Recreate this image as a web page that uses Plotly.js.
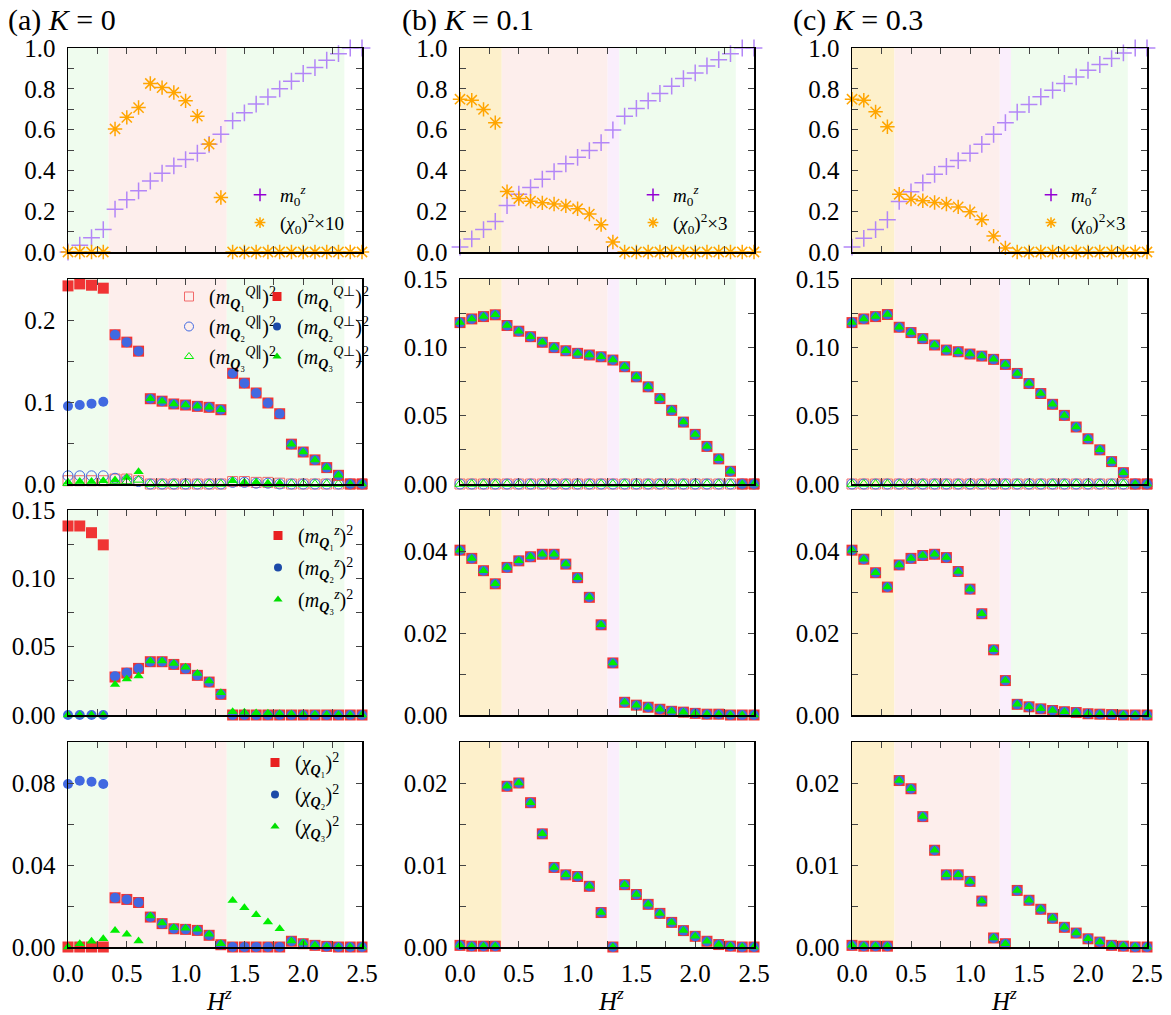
<!DOCTYPE html>
<html><head><meta charset="utf-8">
<script src="https://cdn.plot.ly/plotly-3.0.1.min.js"></script>
<style>html,body{margin:0;padding:0;background:#fff}#chart{width:1171px;height:1015px}</style>
</head><body><div id="chart"></div>
<script>
// ---------------- DATA ----------------
const H = [0.0,0.1,0.2,0.3,0.4,0.5,0.6,0.7,0.8,0.9,1.0,1.1,1.2,1.3,1.4,1.5,1.6,1.7,1.8,1.9,2.0,2.1,2.2,2.3,2.4,2.5];

// Row 1: uniform magnetisation and scalar chirality
const a_m0z = [0.0,0.033,0.07,0.11,0.21,0.256,0.30,0.348,0.386,0.422,0.453,0.484,0.528,0.577,0.643,0.682,0.725,0.76,0.80,0.837,0.875,0.904,0.94,0.972,1.0,1.0];
const a_chi0x10 = [0,0,0,0,0.603,0.66,0.708,0.826,0.806,0.782,0.741,0.666,0.529,0.267,0,0,0,0,0,0,0,0,0,0,0,0];
const b_m0z = [0.024,0.064,0.11,0.15,0.228,0.283,0.316,0.357,0.394,0.432,0.464,0.497,0.536,0.598,0.666,0.704,0.741,0.777,0.813,0.85,0.878,0.912,0.943,0.972,1.0,1.0];
const b_chi0x3 = [0.749,0.744,0.699,0.634,0.296,0.262,0.249,0.241,0.235,0.226,0.212,0.186,0.134,0.049,0,0,0,0,0,0,0,0,0,0,0,0];
const c_m0z = [0.024,0.067,0.11,0.158,0.248,0.295,0.339,0.381,0.419,0.448,0.484,0.528,0.577,0.634,0.686,0.723,0.761,0.793,0.826,0.858,0.891,0.919,0.948,0.976,1.0,1.0];
const c_chi0x3 = [0.749,0.744,0.687,0.614,0.283,0.259,0.251,0.243,0.235,0.221,0.197,0.158,0.078,0.02,0,0,0,0,0,0,0,0,0,0,0,0];

// Row 2: in-plane components (parallel: open, perpendicular: filled)
const a_mPar1 = [0.004,0.004,0.004,0.004,0.006,0.006,0.004,0,0,0,0,0,0,0,0.003,0.003,0.002,0.002,0.001,0,0,0,0,0,0,0];
const a_mPar2 = [0.010,0.010,0.010,0.010,0.007,0.005,0.003,0,0,0,0,0,0,0,0.002,0.002,0.001,0.001,0,0,0,0,0,0,0,0];
const a_mPar3 = [0.001,0.001,0.001,0.001,0.003,0.003,0.005,0,0,0,0,0,0,0,0.002,0.001,0.001,0,0,0,0,0,0,0,0,0];
const a_mPerp1 = [0.2416,0.244,0.2424,0.2388,0.182,0.173,0.162,0.104,0.101,0.0976,0.0963,0.0947,0.0935,0.0906,0.135,0.123,0.111,0.0988,0.0857,0.0486,0.039,0.0294,0.02,0.0106,0,0];
const a_mPerp2 = [0.095,0.0963,0.098,0.1004,0.182,0.173,0.162,0.104,0.101,0.0976,0.0963,0.0947,0.0935,0.0906,0.135,0.123,0.111,0.0988,0.0857,0.0486,0.039,0.0294,0.02,0.0106,0,0];
const a_mPerp3 = [0.002,0.003,0.003,0.004,0.005,0.008,0.015,0.104,0.101,0.0976,0.0963,0.0947,0.0935,0.0906,0.004,0.002,0.002,0.001,0.001,0.0486,0.039,0.0294,0.02,0.0106,0,0];
const b_mPar = [0,0,0,0,0,0,0,0,0,0,0,0,0,0,0,0,0,0,0,0,0,0,0,0,0,0];
const b_mPerp = [0.1181,0.1208,0.1225,0.1238,0.116,0.1118,0.1078,0.1037,0.0998,0.0975,0.0956,0.0944,0.0931,0.0907,0.0858,0.0784,0.0711,0.0625,0.0539,0.0453,0.0363,0.0275,0.0184,0.0093,0,0];
const c_mPar = [0,0,0,0,0,0,0,0,0,0,0,0,0,0,0,0,0,0,0,0,0,0,0,0,0,0];
const c_mPerp = [0.1181,0.1208,0.1225,0.124,0.1147,0.1108,0.1064,0.1017,0.098,0.0968,0.0951,0.0936,0.0912,0.0875,0.0809,0.0735,0.0662,0.0583,0.0502,0.0417,0.0331,0.025,0.0164,0.0083,0,0];

// Row 3: out-of-plane components
const a_mz1 = [0.1383,0.1383,0.1334,0.1245,0.0278,0.0307,0.0341,0.039,0.039,0.037,0.0339,0.029,0.0241,0.0151,0,0,0,0,0,0,0,0,0,0,0,0];
const a_mz2 = [0,0,0,0,0.0283,0.031,0.034,0.039,0.039,0.037,0.0339,0.029,0.0241,0.0151,0,0,0,0,0,0,0,0,0,0,0,0];
const a_mz3 = [0,0,0,0,0.0224,0.0263,0.0285,0.0395,0.0395,0.0377,0.035,0.0304,0.0248,0.0163,0.0024,0.002,0.0015,0.0012,0.001,0.0008,0.0006,0.0004,0.0002,0.0001,0,0];
const b_mz = [0.0402,0.0382,0.0352,0.032,0.036,0.0376,0.0386,0.0392,0.0392,0.0368,0.0335,0.0287,0.022,0.0127,0.0031,0.0024,0.0019,0.0014,0.0009,0.0007,0.0004,0.0002,0.0002,0,0,0];
const c_mz = [0.0402,0.038,0.0347,0.0312,0.0366,0.0382,0.0389,0.0392,0.0384,0.035,0.0307,0.0247,0.0159,0.0084,0.0026,0.002,0.0015,0.0011,0.0008,0.0006,0.0003,0.0002,0.0001,0,0,0];

// Row 4: chirality components
const a_chi1 = [0,0,0,0,0.024,0.0232,0.0217,0.0146,0.0114,0.0089,0.0086,0.0081,0.0057,0.0011,0,0,0,0,0,0.0028,0.0016,0.0008,0.0003,0,0,0];
const a_chi2 = [0.0795,0.0811,0.0806,0.0795,0.024,0.0232,0.0217,0.0146,0.0114,0.0089,0.0086,0.0081,0.0057,0.0011,0,0,0,0,0,0.0028,0.0016,0.0008,0.0003,0,0,0];
const a_chi3 = [0,0.0016,0.0028,0.004,0.0081,0.0062,0.0029,0.0151,0.0117,0.0094,0.0091,0.0086,0.0062,0.0016,0.0227,0.0192,0.0157,0.0122,0.0089,0.0029,0.0019,0.0008,0.0003,0,0,0];
const b_chi = [0.0002,0.0001,0.0001,0.0001,0.0196,0.02,0.0176,0.0138,0.0097,0.0088,0.0086,0.0074,0.0042,0,0.0076,0.0064,0.0052,0.0041,0.003,0.002,0.0013,0.0007,0.0003,0.0001,0,0];
const c_chi = [0.0002,0.0001,0.0001,0.0001,0.0203,0.0193,0.0159,0.0118,0.0088,0.0088,0.008,0.0056,0.0011,0.0004,0.0069,0.0057,0.0046,0.0035,0.0024,0.0017,0.001,0.0006,0.0002,0.0001,0,0];

// Phase boundaries (H^z) and the phase of each interval
const a_bounds = [0, 0.345, 1.35, 2.35];
const a_phases = ['green','pink','green'];
const b_bounds = [0, 0.355, 1.255, 1.355, 2.345];
const b_phases = ['orange','pink','lavender','green'];
const c_bounds = [0, 0.36, 1.252, 1.347, 2.337];
const c_phases = ['orange','pink','lavender','green'];

// Text
const panelTitles = ['(a) <i>K</i> = 0', '(b) <i>K</i> = 0.1', '(c) <i>K</i> = 0.3'];
const xTitle = '<i>H</i><sup><i>z</i></sup>';
const lblM0 = '<i>m</i><sub>0</sub><sup><i>z</i></sup>';
const lblChi0 = ['(<i>χ</i><sub>0</sub>)<sup>2</sup>×10', '(<i>χ</i><sub>0</sub>)<sup>2</sup>×3', '(<i>χ</i><sub>0</sub>)<sup>2</sup>×3'];
const lblPar = ['(<i>m</i><sub><b><i>Q</i></b>₁</sub><sup><i>Q</i>∥</sup>)<sup>2</sup>','(<i>m</i><sub><b><i>Q</i></b>₂</sub><sup><i>Q</i>∥</sup>)<sup>2</sup>','(<i>m</i><sub><b><i>Q</i></b>₃</sub><sup><i>Q</i>∥</sup>)<sup>2</sup>'];
const lblPerp = ['(<i>m</i><sub><b><i>Q</i></b>₁</sub><sup><i>Q</i>⊥</sup>)<sup>2</sup>','(<i>m</i><sub><b><i>Q</i></b>₂</sub><sup><i>Q</i>⊥</sup>)<sup>2</sup>','(<i>m</i><sub><b><i>Q</i></b>₃</sub><sup><i>Q</i>⊥</sup>)<sup>2</sup>'];
const lblMz = ['(<i>m</i><sub><b><i>Q</i></b>₁</sub><sup><i>z</i></sup>)<sup>2</sup>','(<i>m</i><sub><b><i>Q</i></b>₂</sub><sup><i>z</i></sup>)<sup>2</sup>','(<i>m</i><sub><b><i>Q</i></b>₃</sub><sup><i>z</i></sup>)<sup>2</sup>'];
const lblChi = ['(<i>χ</i><sub><b><i>Q</i></b>₁</sub>)<sup>2</sup>','(<i>χ</i><sub><b><i>Q</i></b>₂</sub>)<sup>2</sup>','(<i>χ</i><sub><b><i>Q</i></b>₃</sub>)<sup>2</sup>'];

// ---------------- STYLE ----------------
const W = 1171, HH = 1015;
const FONT = 'Liberation Serif';
const colPx = [[68,362],[460,754],[852,1147]];
const rowPx = [[48,252],[279,484],[510,715],[742,947]];
const phaseColor = {green:'#effcee', pink:'#fdeeec', orange:'#fdf0cb', lavender:'#faeefc'};
const C = {purple:'#b386f7', purpleL:'#9400d3', orange:'#ffa500', red:'#f03434', redL:'#e82020', blue:'#4169e1', blueL:'#1c4aa8', green:'#00ee00', greenL:'#00dd00', redOpen:'#f26a6a'};

const yCfg = [
  [{r:[0,1.0],d:0.2,m:0.1,f:'.1f'},{r:[0,1.0],d:0.2,m:0.1,f:'.1f'},{r:[0,1.0],d:0.2,m:0.1,f:'.1f'}],
  [{r:[0,0.25],d:0.1,m:0.05,f:'.1f'},{r:[0,0.15],d:0.05,m:0.025,f:'.2f'},{r:[0,0.15],d:0.05,m:0.025,f:'.2f'}],
  [{r:[0,0.15],d:0.05,m:0.025,f:'.2f'},{r:[0,0.05],d:0.02,m:0.01,f:'.2f'},{r:[0,0.05],d:0.02,m:0.01,f:'.2f'}],
  [{r:[0,0.1],d:0.04,m:0.02,f:'.2f'},{r:[0,0.025],d:0.01,m:0.005,f:'.2f'},{r:[0,0.025],d:0.01,m:0.005,f:'.2f'}]
];

const layout = {
  width: W, height: HH, margin:{l:0,r:0,t:0,b:0},
  paper_bgcolor:'#ffffff', plot_bgcolor:'rgba(0,0,0,0)',
  font:{family:FONT, size:22, color:'#000'},
  showlegend:true, shapes:[], annotations:[]
};

function axName(n){ return n===1 ? '' : String(n); }

for (let r=0;r<4;r++){
  for (let c=0;c<3;c++){
    const n = r*3+c+1, s = axName(n), yc = yCfg[r][c];
    layout['xaxis'+s] = {
      domain:[colPx[c][0]/W, colPx[c][1]/W], anchor:'y'+s, range:[0,2.5],
      tick0:0, dtick:0.5, tickformat:'.1f', ticks:'inside', ticklen:6, tickwidth:1, tickcolor:'#444',
      minor:{dtick:0.25, ticks:'inside', ticklen:6, tickwidth:1, tickcolor:'#444'},
      showline:true, linecolor:'#000', linewidth:1.5, mirror:'ticks',
      showgrid:false, zeroline:false, showticklabels:(r===3), ticklabelstandoff:3,
      tickfont:{family:FONT, size:25, color:'#000'}, fixedrange:true
    };
    layout['yaxis'+s] = {
      domain:[1-rowPx[r][1]/HH, 1-rowPx[r][0]/HH], anchor:'x'+s, range:yc.r,
      tick0:0, dtick:yc.d, tickformat:yc.f, ticks:'inside', ticklen:6, tickwidth:1, tickcolor:'#444',
      minor:{dtick:yc.m, ticks:'inside', ticklen:6, tickwidth:1, tickcolor:'#444'},
      showline:true, linecolor:'#000', linewidth:1.5, mirror:'ticks',
      showgrid:false, zeroline:false, ticklabelstandoff:6,
      tickfont:{family:FONT, size:25, color:'#000'}, fixedrange:true
    };
    const bounds = [a_bounds,b_bounds,c_bounds][c], phases = [a_phases,b_phases,c_phases][c];
    for (let i=0;i<phases.length;i++){
      layout.shapes.push({type:'rect', xref:'x'+s, yref:'y'+s+' domain', x0:bounds[i], x1:bounds[i+1], y0:0, y1:1,
        fillcolor:phaseColor[phases[i]], line:{width:0}, layer:'below'});
    }
  }
}

// Panel titles and x-axis titles
for (let c=0;c<3;c++){
  layout.annotations.push({xref:'paper', yref:'paper', x:[6,400,791][c]/W, y:1-20/HH, xanchor:'left', yanchor:'middle',
    text:panelTitles[c], showarrow:false, font:{family:FONT, size:30, color:'#000'}});
  layout.annotations.push({xref:'paper', yref:'paper', x:(colPx[c][0]+colPx[c][1])/2/W + 4/W, y:1-999/HH, xanchor:'center', yanchor:'middle',
    text:xTitle, showarrow:false, borderpad:0, font:{family:FONT, size:25, color:'#000'}});
}

// Legends
function legendCfg(xpx, ypx, fs, gap){
  return {x:xpx/W, y:1-ypx/HH, xanchor:'left', yanchor:'top', bgcolor:'rgba(0,0,0,0)', borderwidth:0,
    font:{family:FONT, size:fs, color:'#000'}, itemclick:false, itemdoubleclick:false,
    traceorder:'grouped', tracegroupgap:gap};
}
layout.legend  = legendCfg(240,176,19,0);
layout.legend2 = legendCfg(633,176,19,0);
layout.legend3 = legendCfg(1031,176,19,0);
layout.legend4 = legendCfg(169,277,20,1);
layout.legend5 = legendCfg(257,277,20,1);
layout.legend6 = legendCfg(258,516,20,3);
layout.legend7 = legendCfg(255,743,20,3);

// ---------------- TRACES ----------------
const traces = [];
let gid = 0;
function pts(n, y, symbol, color, size, lw){
  const s = axName(n);
  traces.push({type:'scatter', mode:'markers', x:H, y:y, xaxis:'x'+s, yaxis:'y'+s, showlegend:false, cliponaxis:false, hoverinfo:'skip',
    marker:{symbol:symbol, color:color, size:size, line:{width:lw||0, color:color}}});
}
function leg(n, legendId, name, symbol, color, size, lw){
  const s = axName(n);
  traces.push({type:'scatter', mode:'markers', x:[null], y:[null], xaxis:'x'+s, yaxis:'y'+s, name:name, legend:legendId, showlegend:true,
    legendgroup:'g'+(gid++),
    marker:{symbol:symbol, color:color, size:size, line:{width:lw||0, color:color}}});
}

// Row 1
const m0zs = [a_m0z,b_m0z,c_m0z], chi0s = [a_chi0x10,b_chi0x3,c_chi0x3], leg1 = ['legend','legend2','legend3'];
for (let c=0;c<3;c++){
  const n = c+1;
  pts(n, m0zs[c], 'cross-thin-open', C.purple, 12, 1.5);
  pts(n, chi0s[c], 'asterisk-open', C.orange, 12, 1.5);
  leg(n, leg1[c], lblM0, 'cross-thin-open', C.purpleL, 9, 1.5);
  leg(n, leg1[c], lblChi0[c], 'asterisk-open', C.orange, 9, 1.5);
}

// Row 2
pts(4, a_mPar1, 'square-open', C.redOpen, 10, 1);
pts(4, a_mPar2, 'circle-open', C.blue, 10, 1);
pts(4, a_mPar3, 'triangle-up-open', C.green, 9, 1);
pts(4, a_mPerp1, 'square', C.red, 11);
pts(4, a_mPerp2, 'circle', C.blue, 10);
pts(4, a_mPerp3, 'triangle-up', C.green, 9);
leg(4,'legend4',lblPar[0],'square-open',C.redOpen,9,1);
leg(4,'legend4',lblPar[1],'circle-open',C.blue,9,1);
leg(4,'legend4',lblPar[2],'triangle-up-open',C.green,8,1);
leg(4,'legend5',lblPerp[0],'square',C.redL,9);
leg(4,'legend5',lblPerp[1],'circle',C.blueL,8);
leg(4,'legend5',lblPerp[2],'triangle-up',C.greenL,8);
const pars = [null,b_mPar,c_mPar], perps = [null,b_mPerp,c_mPerp];
for (let c=1;c<3;c++){
  const n = 3+c+1;
  pts(n, pars[c], 'square-open', C.redOpen, 10, 1);
  pts(n, pars[c], 'circle-open', C.blue, 10, 1);
  pts(n, pars[c], 'triangle-up-open', C.green, 9, 1);
  pts(n, perps[c], 'square', C.red, 11);
  pts(n, perps[c], 'circle', C.blue, 10);
  pts(n, perps[c], 'triangle-up', C.green, 9);
}

// Row 3
pts(7, a_mz1, 'square', C.red, 11);
pts(7, a_mz2, 'circle', C.blue, 10);
pts(7, a_mz3, 'triangle-up', C.green, 9);
leg(7,'legend6',lblMz[0],'square',C.redL,9);
leg(7,'legend6',lblMz[1],'circle',C.blueL,8);
leg(7,'legend6',lblMz[2],'triangle-up',C.greenL,8);
const mzs = [null,b_mz,c_mz];
for (let c=1;c<3;c++){
  const n = 6+c+1;
  pts(n, mzs[c], 'square', C.red, 11);
  pts(n, mzs[c], 'circle', C.blue, 10);
  pts(n, mzs[c], 'triangle-up', C.green, 9);
}

// Row 4
pts(10, a_chi1, 'square', C.red, 11);
pts(10, a_chi2, 'circle', C.blue, 10);
pts(10, a_chi3, 'triangle-up', C.green, 9);
leg(10,'legend7',lblChi[0],'square',C.redL,9);
leg(10,'legend7',lblChi[1],'circle',C.blueL,8);
leg(10,'legend7',lblChi[2],'triangle-up',C.greenL,8);
const chis = [null,b_chi,c_chi];
for (let c=1;c<3;c++){
  const n = 9+c+1;
  pts(n, chis[c], 'square', C.red, 11);
  pts(n, chis[c], 'circle', C.blue, 10);
  pts(n, chis[c], 'triangle-up', C.green, 9);
}

Plotly.newPlot('chart', traces, layout, {displayModeBar:false, staticPlot:true});
</script>
</body></html>
